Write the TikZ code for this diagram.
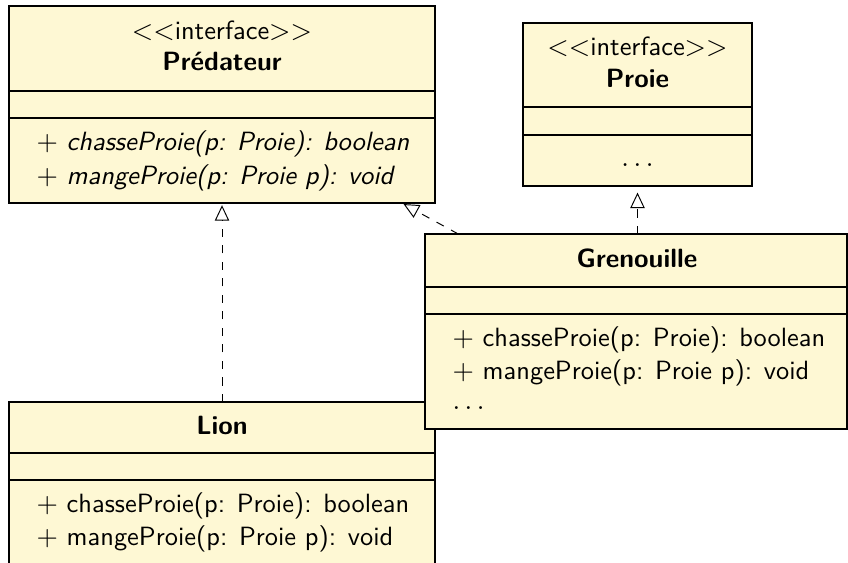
\documentclass[tikz,border=0pt]{standalone}
\usepackage{fontspec}
\usetikzlibrary{arrows.meta,fit}
\definecolor{classfill}{RGB}{254,248,212}
\newcommand\umlfont{\sffamily\fontsize{9.6}{11.5}\selectfont}
\tikzset{
  classbox/.style={draw=black, fill=classfill, line width=0.4pt, inner sep=0pt, outer sep=0pt},
  sepline/.style={draw=black, line width=0.4pt},
  stereotext/.style={font=\umlfont, anchor=base, inner sep=0pt},
  nametext/.style={font=\umlfont\bfseries, anchor=base, inner sep=0pt},
  optext/.style={font=\umlfont, anchor=base west, inner sep=0pt},
  abstractop/.style={optext, font=\umlfont\itshape},
  realize/.style={dashed, line width=0.35pt, -{Triangle[open, length=5.6pt, width=5.2pt]}}
}
\begin{document}
\begin{tikzpicture}[x=0.3636pt, y=-0.3636pt]
\useasboundingbox (0,0) rectangle (848,562);
\clip (0,0) rectangle (848,562);

% ---- Prédateur (interface)
\coordinate (predA) at (9,6);
\coordinate (predB) at (435,203);
\node[classbox, fit=(predA)(predB)] (pred) {};
\draw[sepline] (9,91) -- (435,91);
\draw[sepline] (9,118) -- (435,118);
\node[stereotext] (predst) at (222,40) {$<<$interface$>>$};
\node[nametext] (predname) at (222,71) {Prédateur};
\node[abstractop] (predop1) at (36,151) {$+$ chasseProie(p: Proie): boolean};
\node[abstractop] (predop2) at (36,184) {$+$ mangeProie(p: Proie p): void};

% ---- Proie (interface)
\coordinate (proieA) at (523,23);
\coordinate (proieB) at (752,186);
\node[classbox, fit=(proieA)(proieB)] (proie) {};
\draw[sepline] (523,107) -- (752,107);
\draw[sepline] (523,135) -- (752,135);
\node[stereotext] (proiest) at (637.5,56) {$<<$interface$>>$};
\node[nametext] (proiename) at (637.5,87) {Proie};
\node[stereotext] (proieops) at (637.5,166) {$\ldots$};

% ---- Lion
\coordinate (lionA) at (9,402);
\coordinate (lionB) at (435,640);
\node[classbox, fit=(lionA)(lionB)] (lion) {};
\draw[sepline] (9,453) -- (435,453);
\draw[sepline] (9,480) -- (435,480);
\node[nametext] (lionname) at (222,434) {Lion};
\node[optext] (lionop1) at (36,512) {$+$ chasseProie(p: Proie): boolean};
\node[optext] (lionop2) at (36,545) {$+$ mangeProie(p: Proie p): void};

% ---- Grenouille
\coordinate (grenA) at (425,234);
\coordinate (grenB) at (847,429);
\node[classbox, fit=(grenA)(grenB)] (gren) {};
\draw[sepline] (425,287) -- (847,287);
\draw[sepline] (425,314) -- (847,314);
\node[nametext] (grenname) at (637,267) {Grenouille};
\node[optext] (grenop1) at (452,346) {$+$ chasseProie(p: Proie): boolean};
\node[optext] (grenop2) at (452,379) {$+$ mangeProie(p: Proie p): void};
\node[optext] (grenop3) at (452,409) {$\ldots$};

% ---- realizations
\draw[realize, shorten >=0.8pt] (lion.north) -- (pred.south);
\draw[realize, shorten >=0.8pt] (gren) -- (pred);
\draw[realize, shorten >=2.4pt] (gren.north -| proie.south) -- (proie.south);
\end{tikzpicture}
\end{document}
